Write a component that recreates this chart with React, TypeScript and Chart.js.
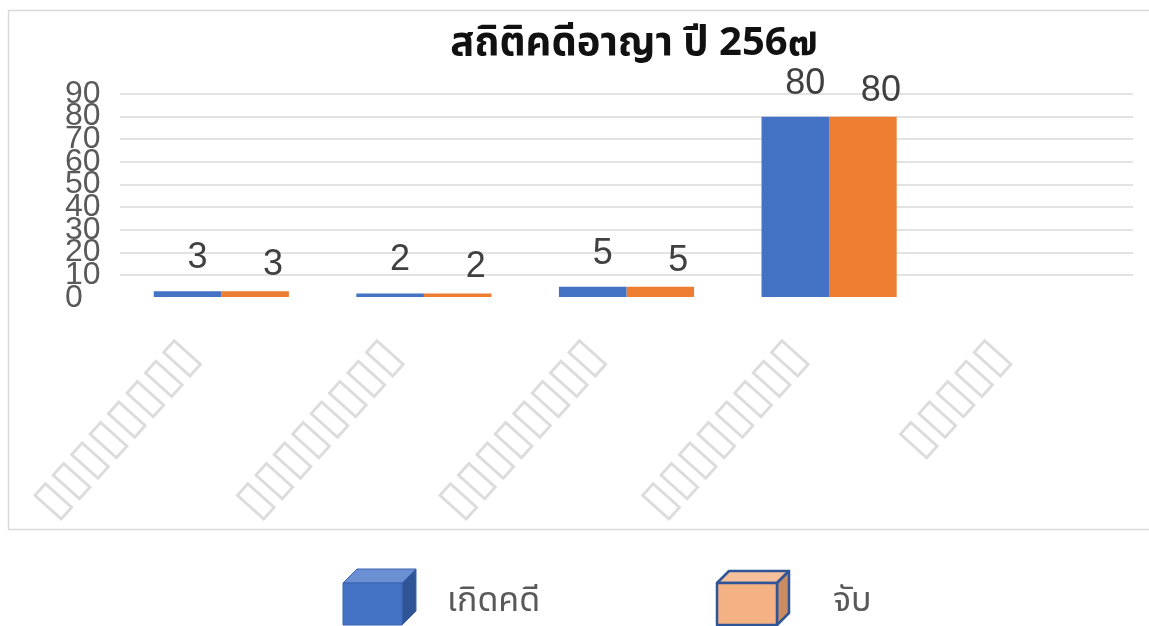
import React, { useEffect, useRef } from "react";
import { Chart, registerables } from "chart.js";

Chart.register(...registerables);

const titleText = "สถิติคดีอาญา ปี 256๗";
const categories = ["▯▯▯▯▯▯▯▯", "▯▯▯▯▯▯▯▯", "▯▯▯▯▯▯▯▯", "▯▯▯▯▯▯▯▯", "▯▯▯▯▯"];
const seriesNames = ["เกิดคดี", "จับ"];
const occurred = [3, 2, 5, 80, null];
const arrested = [3, 2, 5, 80, null];
const yMin = 0;
const yMax = 90;
const yStep = 10;

const THAI = "'Noto Sans Thai', 'Leelawadee UI', Tahoma, 'Noto Sans', 'DejaVu Sans', sans-serif";

const borderPlugin = {
  id: "outerBorder",
  beforeDraw(chart: any) {
    const ctx = chart.ctx;
    ctx.save();
    ctx.strokeStyle = "#d9d9d9";
    ctx.lineWidth = 1.5;
    ctx.strokeRect(8.5, 10.5, 1150, 519);
    ctx.restore();
  },
};

const titlePlugin = {
  id: "customTitle",
  afterDraw(chart: any) {
    const ctx = chart.ctx;
    ctx.save();
    ctx.font = `bold 40px ${THAI}`;
    ctx.fillStyle = "#111111";
    ctx.textAlign = "center";
    ctx.textBaseline = "middle";
    ctx.fillText(titleText, 634, 47);
    ctx.restore();
  },
};

const labelOffsets = [
  { dx: 10, dy: -33 },
  { dx: 18, dy: -26 },
];

const dataLabelPlugin = {
  id: "dataLabels",
  afterDatasetsDraw(chart: any) {
    const ctx = chart.ctx;
    ctx.save();
    ctx.font = "36px 'Liberation Sans', Arial, sans-serif";
    ctx.fillStyle = "#404040";
    ctx.textAlign = "center";
    ctx.textBaseline = "middle";
    chart.data.datasets.forEach((ds: any, di: number) => {
      const meta = chart.getDatasetMeta(di);
      meta.data.forEach((el: any, i: number) => {
        const v = ds.data[i];
        if (v === null || v === undefined) return;
        const off = labelOffsets[di];
        ctx.fillText(String(v), el.x + off.dx, el.y + off.dy);
      });
    });
    ctx.restore();
  },
};

function drawCube(ctx: any, x: number, y: number, w: number, h: number, d: number, front: string, top: string, side: string, stroke: string, lw: number) {
  ctx.save();
  ctx.lineJoin = "round";
  ctx.strokeStyle = stroke;
  ctx.lineWidth = lw;
  ctx.beginPath();
  ctx.moveTo(x, y);
  ctx.lineTo(x + d, y - d);
  ctx.lineTo(x + w + d, y - d);
  ctx.lineTo(x + w, y);
  ctx.closePath();
  ctx.fillStyle = top;
  ctx.fill();
  ctx.stroke();
  ctx.beginPath();
  ctx.moveTo(x + w, y);
  ctx.lineTo(x + w + d, y - d);
  ctx.lineTo(x + w + d, y + h - d);
  ctx.lineTo(x + w, y + h);
  ctx.closePath();
  ctx.fillStyle = side;
  ctx.fill();
  ctx.stroke();
  ctx.fillStyle = front;
  ctx.fillRect(x, y, w, h);
  ctx.strokeRect(x, y, w, h);
  ctx.restore();
}

const legendPlugin = {
  id: "cubeLegend",
  afterDraw(chart: any) {
    const ctx = chart.ctx;
    drawCube(ctx, 343, 583, 59, 42, 14, "#4472C4", "#6a8fd2", "#2f5597", "#3a64b0", 1);
    drawCube(ctx, 717, 583, 60, 42, 12, "#F4B183", "#f6c09c", "#c98c63", "#2F5597", 2.5);
    ctx.save();
    ctx.font = `34px ${THAI}`;
    ctx.fillStyle = "#595959";
    ctx.textAlign = "left";
    ctx.textBaseline = "middle";
    ctx.fillText(seriesNames[0], 447, 604);
    ctx.fillText(seriesNames[1], 833, 604);
    ctx.restore();
  },
};

export default function App() {
  const ref = useRef<HTMLCanvasElement | null>(null);
  useEffect(() => {
    document.body.style.margin = "0";
    const canvas = ref.current;
    if (!canvas) return;
    const chart = new Chart(canvas, {
      type: "bar",
      data: {
        labels: categories,
        datasets: [
          { label: seriesNames[0], data: occurred, backgroundColor: "#4472C4", categoryPercentage: 0.667, barPercentage: 1 },
          { label: seriesNames[1], data: arrested, backgroundColor: "#ED7D31", categoryPercentage: 0.667, barPercentage: 1 },
        ],
      },
      options: {
        responsive: false,
        animation: false,
        devicePixelRatio: 1,
        layout: { padding: { left: 65, right: 16, top: 94, bottom: 0 } },
        plugins: {
          legend: { display: false },
          title: { display: false },
          tooltip: { enabled: false },
        },
        scales: {
          x: {
            grid: { display: false, drawTicks: false },
            border: { display: false },
            ticks: {
              autoSkip: false,
              minRotation: 48,
              maxRotation: 48,
              labelOffset: -30,
              padding: 30,
              color: "#dcdcdc",
              font: { family: "'DejaVu Sans', sans-serif", size: 50 },
            },
            afterFit(scale: any) {
              scale.height = 328;
            },
          },
          y: {
            min: yMin,
            max: yMax,
            grid: {
              drawTicks: false,
              lineWidth: 2,
              color: (c: any) => (c.tick && c.tick.value === 0 ? "rgba(0,0,0,0)" : "#e3e3e3"),
            },
            border: { display: false },
            ticks: {
              stepSize: yStep,
              autoSkip: false,
              crossAlign: "far",
              padding: 0,
              color: "#595959",
              font: { family: "'Liberation Sans', Arial, sans-serif", size: 32 },
            },
            afterFit(scale: any) {
              scale.width = 55;
            },
          },
        },
      },
      plugins: [borderPlugin, dataLabelPlugin, titlePlugin, legendPlugin],
    });
    return () => chart.destroy();
  }, []);
  return <canvas ref={ref} width={1149} height={626} style={{ display: "block", width: 1149, height: 626 }} />;
}
